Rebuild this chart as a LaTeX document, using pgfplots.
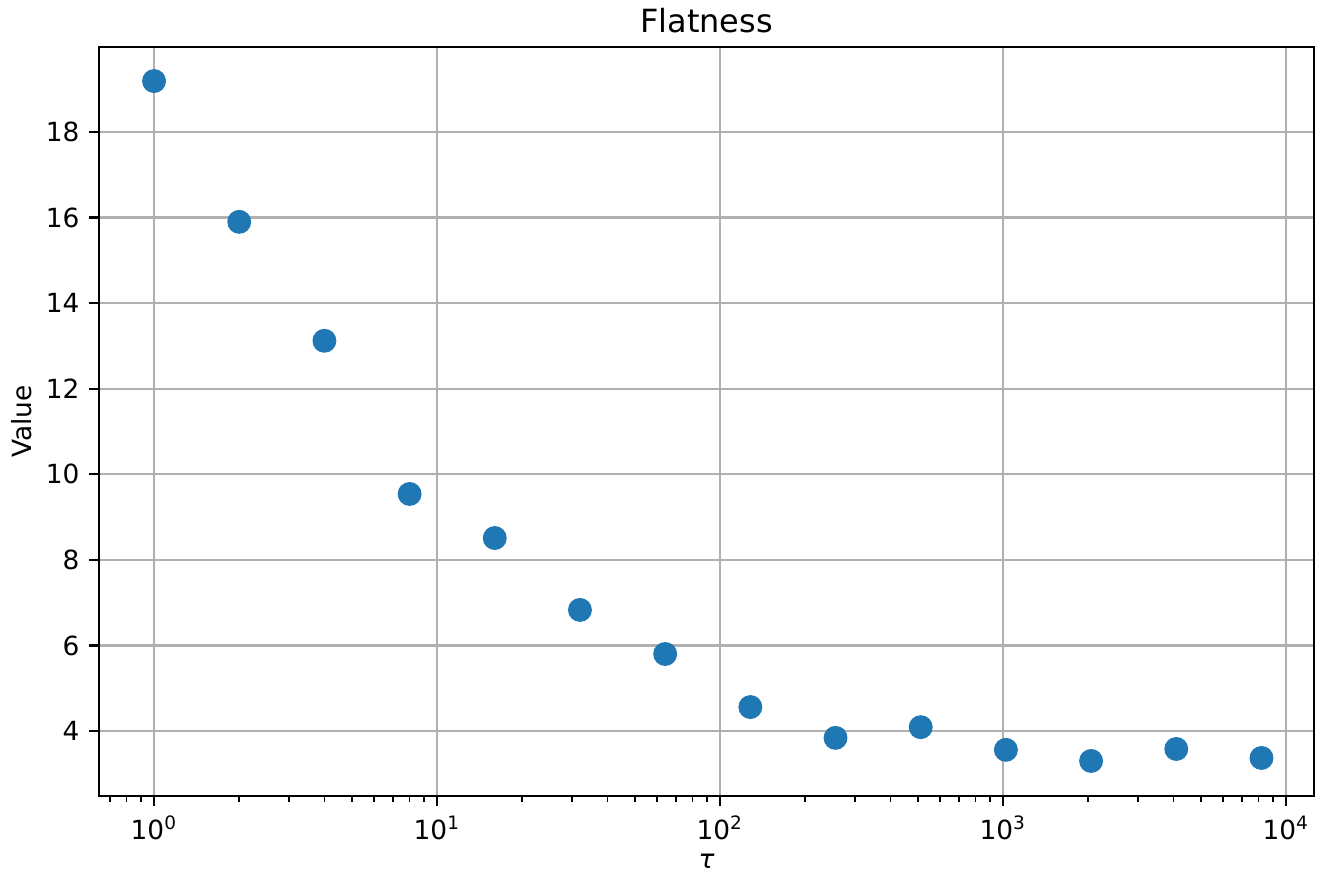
\documentclass[border=0pt]{standalone}
\usepackage{fontspec}
\setmainfont{DejaVu Sans}
\usepackage{pgfplots}
\pgfplotsset{compat=1.18}
\definecolor{mplblue}{HTML}{1F77B4}
\definecolor{gridgray}{HTML}{B0B0B0}
\begin{document}
\begin{tikzpicture}
\begin{axis}[name=ax, scale only axis, width=437.4pt, height=269.64pt,
 xmode=log, xmin=0.639, xmax=12560, ymin=2.481, ymax=19.986,
 xtick={1,10,100,1000,10000},
 xticklabels={10\textsuperscript{0},10\textsuperscript{1},10\textsuperscript{2},10\textsuperscript{3},10\textsuperscript{4}},
 minor xtick={0.7,0.8,0.9,2,3,4,5,6,7,8,9,20,30,40,50,60,70,80,90,200,300,400,500,600,700,800,900,2000,3000,4000,5000,6000,7000,8000,9000},
 ytick={4,6,8,10,12,14,16,18},
 grid=major, major grid style={gridgray, line width=0.8pt},
 tick align=outside, tick pos=left,
 major tick length=3.5pt, minor tick length=2pt,
 every tick/.style={black, line width=0.8pt},
 every minor tick/.style={black, line width=0.6pt},
 axis line style={line width=0.8pt},
 /pgf/number format/assume math mode=true,
 ticklabel style={font=\fontsize{9.5}{11}\selectfont},
 title={Flatness}, title style={font=\fontsize{11.5}{14}\selectfont, yshift=-4.5pt},
 xlabel={\itshape τ}, ylabel={Value},
 label style={font=\fontsize{9.5}{11}\selectfont},
 xlabel style={yshift=2pt},
 ylabel style={yshift=-1.8pt},
]
\addplot[only marks, mark=*, mark size=4.1pt, mark options={fill=mplblue, draw=mplblue}] table {
x y
1 19.19
2 15.90
4 13.12
8 9.54
16 8.51
32 6.83
64 5.80
128 4.56
256 3.84
512 4.09
1024 3.56
2048 3.30
4096 3.58
8192 3.37
};
\end{axis}
\pgfresetboundingbox
\path[use as bounding box] ([shift={(-35.64pt,-27.72pt)}]ax.south west) rectangle ([shift={(2.88pt,16.92pt)}]ax.north east);
\end{tikzpicture}
\end{document}
